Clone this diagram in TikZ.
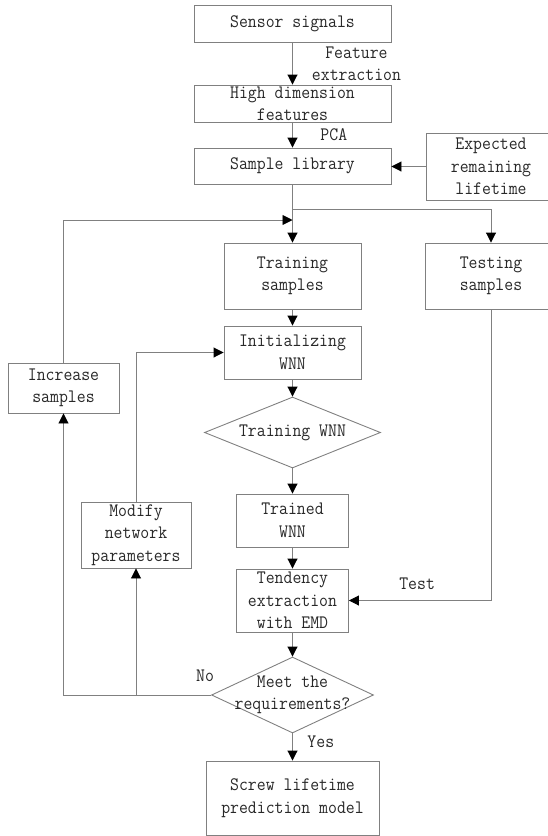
\documentclass[tikz,border=0pt]{standalone}
\usepackage{fontspec}
\setmonofont{Latin Modern Mono}[FakeStretch=0.91]
\usetikzlibrary{arrows.meta}
\usetikzlibrary{calc}
\usetikzlibrary{shapes}
\usetikzlibrary{positioning}

\definecolor{trait}{RGB}{128,128,128}
\definecolor{texte}{RGB}{40,40,40}

\tikzset{
  boite/.style={draw=trait, rectangle, inner sep=0pt, align=center, text=texte},
  losange/.style={draw=trait, diamond, inner sep=0pt},
  fleche/.style={draw=trait, ->},
  lab/.style={inner sep=0pt, align=center, text=texte},
}

\begin{document}
\begin{tikzpicture}[x=1pt,y=-1pt,line width=0.9pt,
  >={Triangle[length=10pt,width=10pt,color=black]},
  font={\ttfamily\fontsize{19}{22.5}\selectfont}]
\def\xc{292.5}
\def\xd{491}

\useasboundingbox (0,0) rectangle (548,836);
\clip (0,0) rectangle (548,836);

% Les boites de la colonne centrale
\node[boite, minimum width=197pt, minimum height=37pt] (sensor) at (\xc,23.5) {Sensor signals};
\node[boite, minimum width=197pt, minimum height=37pt] (highdim) at (\xc,103.5) {High dimension\\features};
\node[boite, minimum width=197pt, minimum height=36pt] (library) at (\xc,166) {Sample library};
\node[boite, minimum width=130pt, minimum height=67pt] (expected) at (\xd,166.5) {Expected\\remaining\\lifetime};
\node[boite, minimum width=137pt, minimum height=66pt] (training) at (\xc,276) {Training\\samples};
\node[boite, minimum width=132pt, minimum height=66pt] (testing) at (\xd,276) {Testing\\samples};
\node[boite, minimum width=137pt, minimum height=53pt] (init) at (\xc,352.5) {Initializing\\WNN};
\node[losange, minimum width=176pt, minimum height=71pt, label={[lab]center:Training WNN}] (trainwnn) at (\xc,432.5) {};
\node[boite, minimum width=112pt, minimum height=53pt] (trained) at (\xc,520.5) {Trained\\WNN};
\node[boite, minimum width=112pt, minimum height=63pt] (tendency) at (\xc,600.5) {Tendency\\extraction\\with EMD};
\node[losange, minimum width=162pt, minimum height=76pt, label={[lab]center:Meet the\\requirements?}] (meet) at (\xc,695) {};
\node[boite, minimum width=173pt, minimum height=74pt] (screw) at (\xc,798) {Screw lifetime\\prediction model};

% Les boites de retour
\node[boite, minimum width=111pt, minimum height=50pt] (increase) at (63.5,388) {Increase\\samples};
\node[boite, minimum width=110pt, minimum height=66pt] (modify) at (136,535) {Modify\\network\\parameters};

% Fleches principales
\draw[fleche] (sensor) -- node[lab, right=19pt] {Feature\\extraction} (highdim);
\draw[fleche] (highdim) -- node[lab, right=27.5pt] {PCA} (library);
\draw[fleche] (expected.west) -- (expected.west -| library.east);
\coordinate (split) at (\xc,209);
\coordinate (merge) at (\xc,220);
\draw[fleche] (library) -- (training);
\draw[fleche] (split) -| (testing);
\draw[fleche] (training) -- (init);
\draw[fleche] (init) -- (trainwnn);
\draw[fleche] (trainwnn) -- (trained);
\draw[fleche] (trained) -- (tendency);
\draw[fleche] (tendency) -- (meet);
\draw[fleche] (meet) -- node[lab, pos=0.3, right=14.5pt] {Yes} (screw);
\draw[fleche] (testing) |- node[lab, pos=0.76, above=10pt] {Test} (tendency);

% Boucles de retour
\node[lab] (non) at ($(meet.west)+(-6,-19)$) {No};
\draw[fleche] (meet.west) -| (increase.south);
\draw[fleche] (meet.west) -| (modify.south);
\draw[fleche] (increase.north) |- (merge);
\draw[fleche] (modify.north) |- (init.west);
\end{tikzpicture}
\end{document}
